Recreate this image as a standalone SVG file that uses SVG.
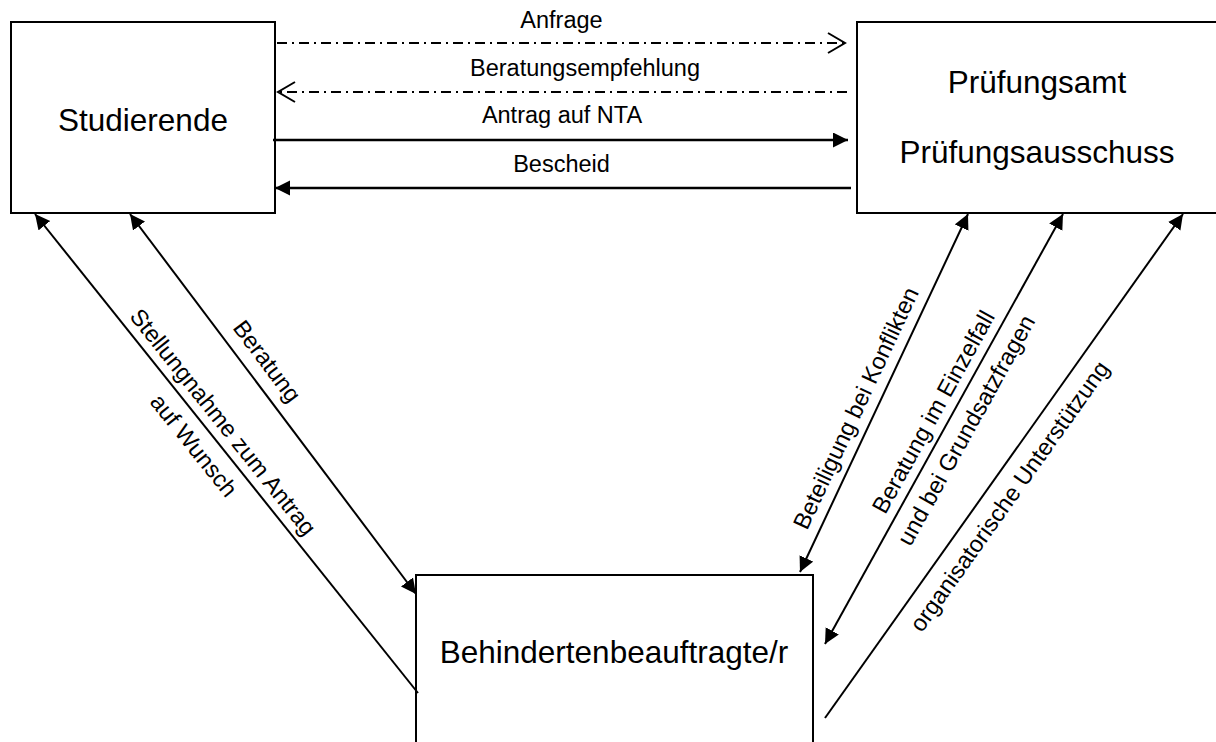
<svg xmlns="http://www.w3.org/2000/svg" width="1216" height="742" viewBox="0 0 1216 742">
  <style>
    .box { fill: #ffffff; stroke: #000000; stroke-width: 2; }
    .title { font-family: "Liberation Sans", Arial, sans-serif; font-size: 31.5px; fill: #000000; text-anchor: middle; }
    .lbl { font-family: "Liberation Sans", Arial, sans-serif; font-size: 23.5px; fill: #000000; text-anchor: middle; }
    .solid { fill: none; stroke: #000000; stroke-width: 2.5; }
    .diag { fill: none; stroke: #000000; stroke-width: 2; }
    .dashdot { fill: none; stroke: #000000; stroke-width: 2; stroke-dasharray: 10 5 2 5; }
  </style>
  <defs>
    <marker id="filled" markerUnits="userSpaceOnUse" markerWidth="16" markerHeight="16" refX="15" refY="7.5" orient="auto-start-reverse">
      <path d="M0,0 L15,7.5 L0,15 z" fill="#000000"/>
    </marker>
    <marker id="open" markerUnits="userSpaceOnUse" markerWidth="20" markerHeight="24" refX="18" refY="11" orient="auto-start-reverse">
      <path d="M1,1 L18,11 L1,21" fill="none" stroke="#000000" stroke-width="2"/>
    </marker>
  </defs>

  <rect width="1216" height="742" fill="#ffffff"/>

  <g id="node-studierende">
    <rect class="box" x="11" y="22" width="264" height="191"/>
    <text class="title" x="143" y="131">Studierende</text>
  </g>

  <g id="node-pruefungsamt">
    <rect class="box" x="857" y="22" width="364" height="191"/>
    <text class="title" x="1037" y="93">Prüfungsamt</text>
    <text class="title" x="1037" y="163">Prüfungsausschuss</text>
  </g>

  <g id="node-behindertenbeauftragte">
    <rect class="box" x="416" y="575" width="397" height="200"/>
    <text class="title" x="614" y="663">Behindertenbeauftragte/r</text>
  </g>

  <g id="connectors">
    <g id="edge-anfrage">
      <line class="dashdot" x1="277" y1="43" x2="845" y2="43" marker-end="url(#open)"/>
      <text class="lbl" x="561.5" y="28">Anfrage</text>
    </g>
    <g id="edge-beratungsempfehlung">
      <line class="dashdot" x1="847" y1="92" x2="278" y2="92" marker-end="url(#open)"/>
      <text class="lbl" x="585" y="76">Beratungsempfehlung</text>
    </g>
    <g id="edge-antrag">
      <line class="solid" x1="273" y1="140" x2="848" y2="140" marker-end="url(#filled)"/>
      <text class="lbl" x="562" y="123">Antrag auf NTA</text>
    </g>
    <g id="edge-bescheid">
      <line class="solid" x1="851" y1="188" x2="275" y2="188" marker-end="url(#filled)"/>
      <text class="lbl" x="561.5" y="172">Bescheid</text>
    </g>
    <g id="edge-stellungnahme">
      <line class="diag" x1="418" y1="693" x2="35" y2="214" marker-end="url(#filled)"/>
      <g transform="translate(209.9,432.7) rotate(51.36)">
        <text class="lbl" x="0" y="-9">Stellungnahme zum Antrag</text>
        <text class="lbl" x="0" y="28.5">auf Wunsch</text>
      </g>
    </g>
    <g id="edge-beratung">
      <line class="diag" x1="130" y1="214" x2="416" y2="594" marker-start="url(#filled)" marker-end="url(#filled)"/>
      <g transform="translate(250.2,373.8) rotate(53.03)">
        <text class="lbl" x="0" y="-13">Beratung</text>
      </g>
    </g>
    <g id="edge-beteiligung">
      <line class="diag" x1="968" y1="214" x2="800" y2="572" marker-start="url(#filled)" marker-end="url(#filled)"/>
      <g transform="translate(873.1,416.3) rotate(-64.87)">
        <text class="lbl" x="0" y="-11">Beteiligung bei Konflikten</text>
      </g>
    </g>
    <g id="edge-einzelfall">
      <line class="diag" x1="1063" y1="214" x2="825" y2="644" marker-start="url(#filled)" marker-end="url(#filled)"/>
      <g transform="translate(948.7,420.5) rotate(-61.03)">
        <text class="lbl" x="0" y="-9.5">Beratung im Einzelfall</text>
        <text class="lbl" x="0" y="28">und bei Grundsatzfragen</text>
      </g>
    </g>
    <g id="edge-organisatorisch">
      <line class="diag" x1="825" y1="718" x2="1183" y2="214" marker-end="url(#filled)"/>
      <g transform="translate(991.6,483.5) rotate(-54.61)">
        <text class="lbl" x="0" y="30">organisatorische Unterstützung</text>
      </g>
    </g>
  </g>
</svg>
